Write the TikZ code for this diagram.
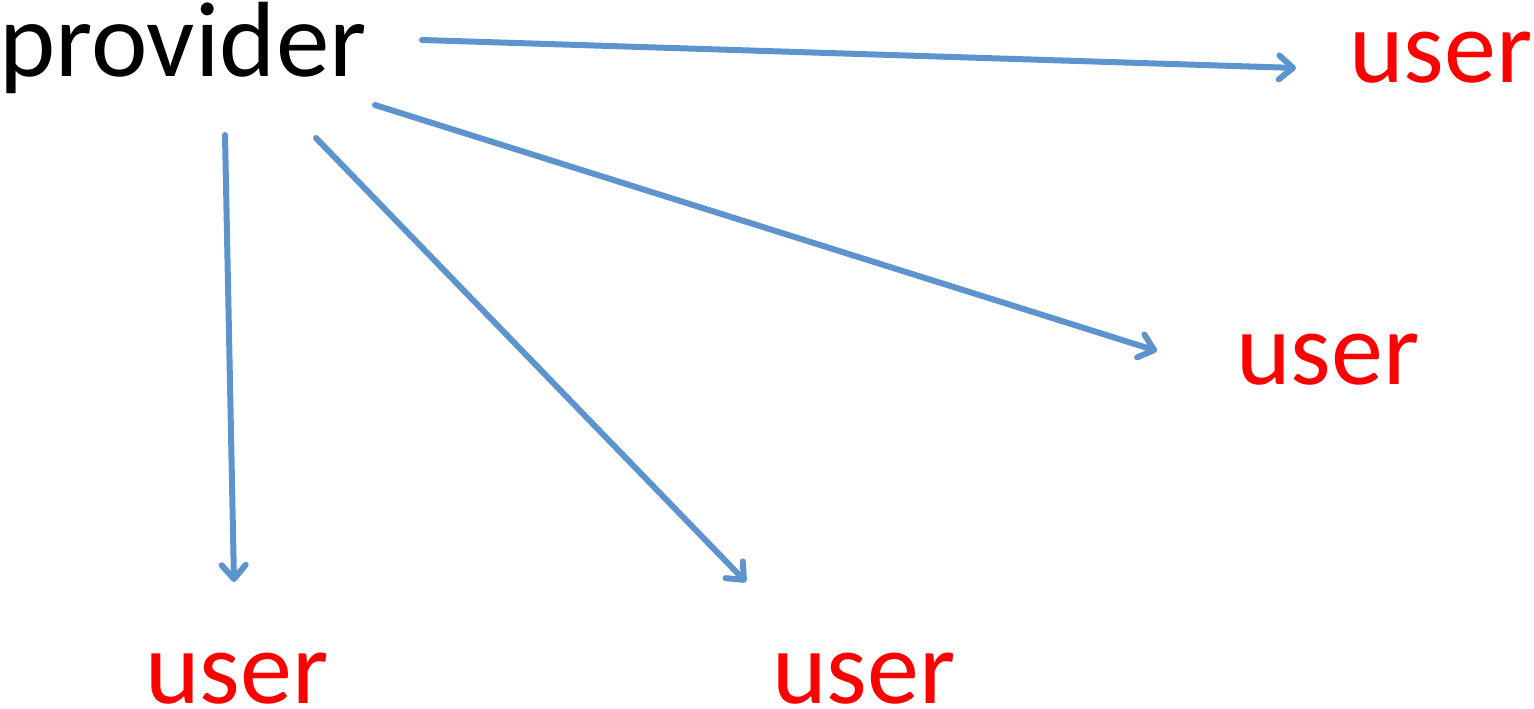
\documentclass[tikz,border=0pt]{standalone}
\usepackage{fontspec}
\setmainfont{Carlito}
\usetikzlibrary{arrows.meta}
\definecolor{arrowblue}{RGB}{94,148,206}
\definecolor{userred}{RGB}{255,0,0}
\tikzset{
  lbl/.style={inner sep=0pt, anchor=base west, text depth=0pt, font=\fontsize{104}{110}\selectfont},
  usr/.style={lbl, text=userred},
  link/.style={draw=arrowblue, line width=6pt, line cap=round,
    -{Straight Barb[length=14pt,width=24pt,line cap=round,line join=round]}}
}
\begin{document}
\begin{tikzpicture}[x=1pt,y=1pt]
\useasboundingbox (0,0) rectangle (1534,709);
\node[lbl, font=\fontsize{107}{112}\selectfont] (prov) at (-1,632) {provider};
\node[usr] (u1) at (1349,626) {user};
\node[usr] (u2) at (1236,324) {user};
\node[usr] (u3) at (145,5) {user};
\node[usr] (u4) at (772,5) {user};
\coordinate (s1) at (422,669);
\coordinate (e1) at (1296,641);
\coordinate (s2) at (375,604);
\coordinate (e2) at (1157,358);
\coordinate (s3) at (316,571);
\coordinate (e3) at (746,127);
\coordinate (s4) at (225,574);
\coordinate (e4) at (234,127);
\draw[link] (s1) -- (e1);
\draw[link] (s2) -- (e2);
\draw[link] (s3) -- (e3);
\draw[link] (s4) -- (e4);
\end{tikzpicture}
\end{document}
